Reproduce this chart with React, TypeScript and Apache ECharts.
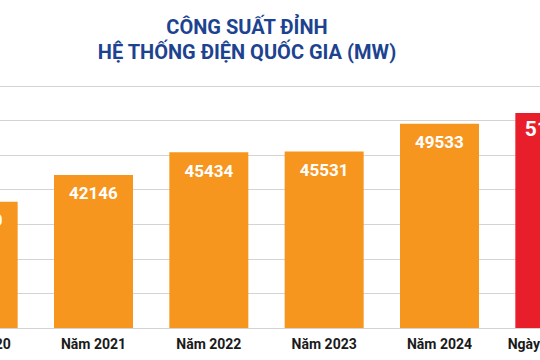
import React, { useEffect, useRef } from "react";
import * as echarts from "echarts";

const titleLines = ["CÔNG SUẤT ĐỈNH", "HỆ THỐNG ĐIỆN QUỐC GIA (MW)"];
const categories = ["Năm 2020", "Năm 2021", "Năm 2022", "Năm 2023", "Năm 2024", "Ngày 6/5/2025"];
const values = [38250, 42146, 45434, 45531, 49533, 51100];
const highlightIndex = 5;

const ORANGE = "#f7961f";
const RED = "#e81f2a";
const NAVY = "#1d4390";
const SHIFT = 80;

export default function App() {
  const ref = useRef<HTMLDivElement>(null);
  useEffect(() => {
    if (!ref.current) return;
    const chart = echarts.init(ref.current, null, { renderer: "svg" });
    chart.setOption({
      animation: false,
      backgroundColor: "#ffffff",
      textStyle: { fontFamily: "Roboto" },
      graphic: titleLines.map((t, i) => ({
        type: "text",
        x: 247 + SHIFT,
        y: 27 + i * 25,
        style: {
          text: t,
          fill: NAVY,
          font: "bold 20px Roboto",
          textAlign: "center",
          textVerticalAlign: "middle",
        },
      })),
      grid: { left: SHIFT - 79.5, width: 692, top: 86, height: 242 },
      xAxis: {
        type: "category",
        data: categories,
        axisTick: { show: false },
        axisLine: { show: true, lineStyle: { color: "#d4d4d4", width: 1 } },
        axisLabel: {
          color: "#1a1a1a",
          fontWeight: "bold",
          fontSize: 14,
          fontFamily: "Roboto",
          margin: 9,
          interval: 0,
        },
      },
      yAxis: {
        type: "value",
        min: 20000,
        max: 55000,
        interval: 5000,
        axisLabel: { show: false },
        axisLine: { show: false },
        axisTick: { show: false },
        splitLine: { lineStyle: { color: "#d4d4d4", width: 1 } },
      },
      series: [
        {
          type: "bar",
          barWidth: 79,
          data: values.map((v, i) => ({
            value: v,
            itemStyle: { color: i === highlightIndex ? RED : ORANGE },
            label: i === highlightIndex ? { fontSize: 21, distance: 6 } : undefined,
          })),
          label: {
            show: true,
            position: "insideTop",
            distance: 10,
            color: "#ffffff",
            fontWeight: "bold",
            fontSize: 17,
            fontFamily: "Roboto",
          },
        },
      ],
    });
    return () => chart.dispose();
  }, []);
  return (
    <div
      style={{
        position: "fixed",
        left: 0,
        top: 0,
        width: 540,
        height: 360,
        overflow: "hidden",
        background: "#ffffff",
      }}
    >
      <div
        ref={ref}
        style={{ position: "absolute", left: -SHIFT, top: 0, width: 700, height: 360 }}
      />
    </div>
  );
}
